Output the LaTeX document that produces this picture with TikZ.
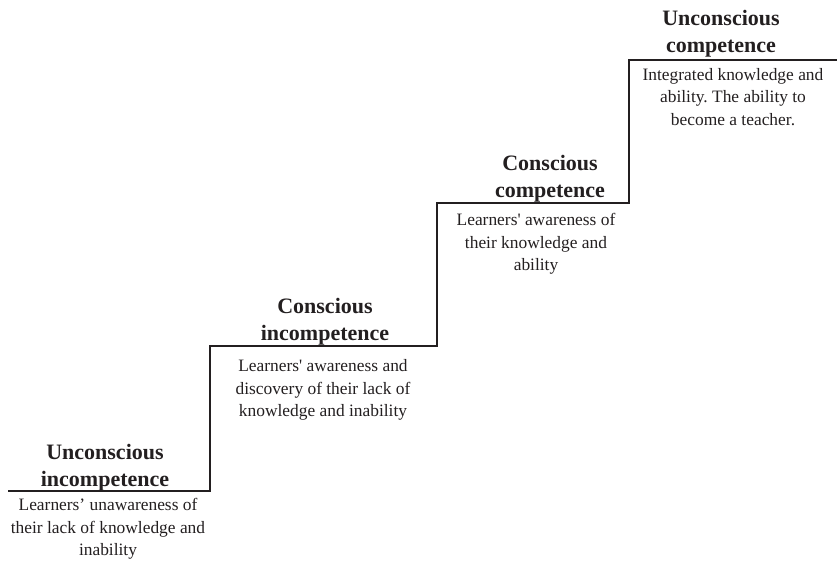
\documentclass[tikz,border=0pt]{standalone}
\usepackage{xcolor}
\usepackage{fontspec}
\setmainfont{Liberation Serif}
\newfontfamily\straightq{Liberation Serif}[Ligatures=TeXOff]
\usepackage{tikz}
\frenchspacing
\definecolor{stairgray}{HTML}{231F20}
\newcommand{\sq}{{\straightq'}}
\tikzset{
  stair/.style={line width=2.8pt,stairgray,line join=miter},
  level/.style={font=\bfseries\fontsize{22}{27}\selectfont,align=center,text=stairgray,inner sep=0pt},
  desc/.style={font=\fontsize{17.4}{22.3}\selectfont,align=center,text=stairgray,inner sep=0pt}
}
\begin{document}
\begin{tikzpicture}[x=1pt,y=-1pt]
\useasboundingbox (0,0) rectangle (837,561);
% the staircase
\draw[stair] (8,491) - - (210,491) - - (210,346) - - (437,346) - - (437,203)
  - - (629,203) - - (629,60) - - (837,60);
% step 1
\node[level] (ui) at (105,468) {Unconscious\\incompetence};
\node[desc] (uidesc) at (108,529) {Learners’ unawareness of\\their lack of knowledge and\\inability};
% step 2
\node[level] (ci) at (325,322) {Conscious\\incompetence};
\node[desc] (cidesc) at (323,390) {Learners\sq{} awareness and\\discovery of their lack of\\knowledge and inability};
% step 3
\node[level] (cc) at (550,179) {Conscious\\competence};
\node[desc] (ccdesc) at (536,244) {Learners\sq{} awareness of\\their knowledge and\\ability};
% step 4
\node[level] (uc) at (721,34) {Unconscious\\competence};
\node[desc] (ucdesc) at (733,97) {Integrated knowledge and\\ability. The ability to\\become a teacher.};
\end{tikzpicture}
\end{document}
